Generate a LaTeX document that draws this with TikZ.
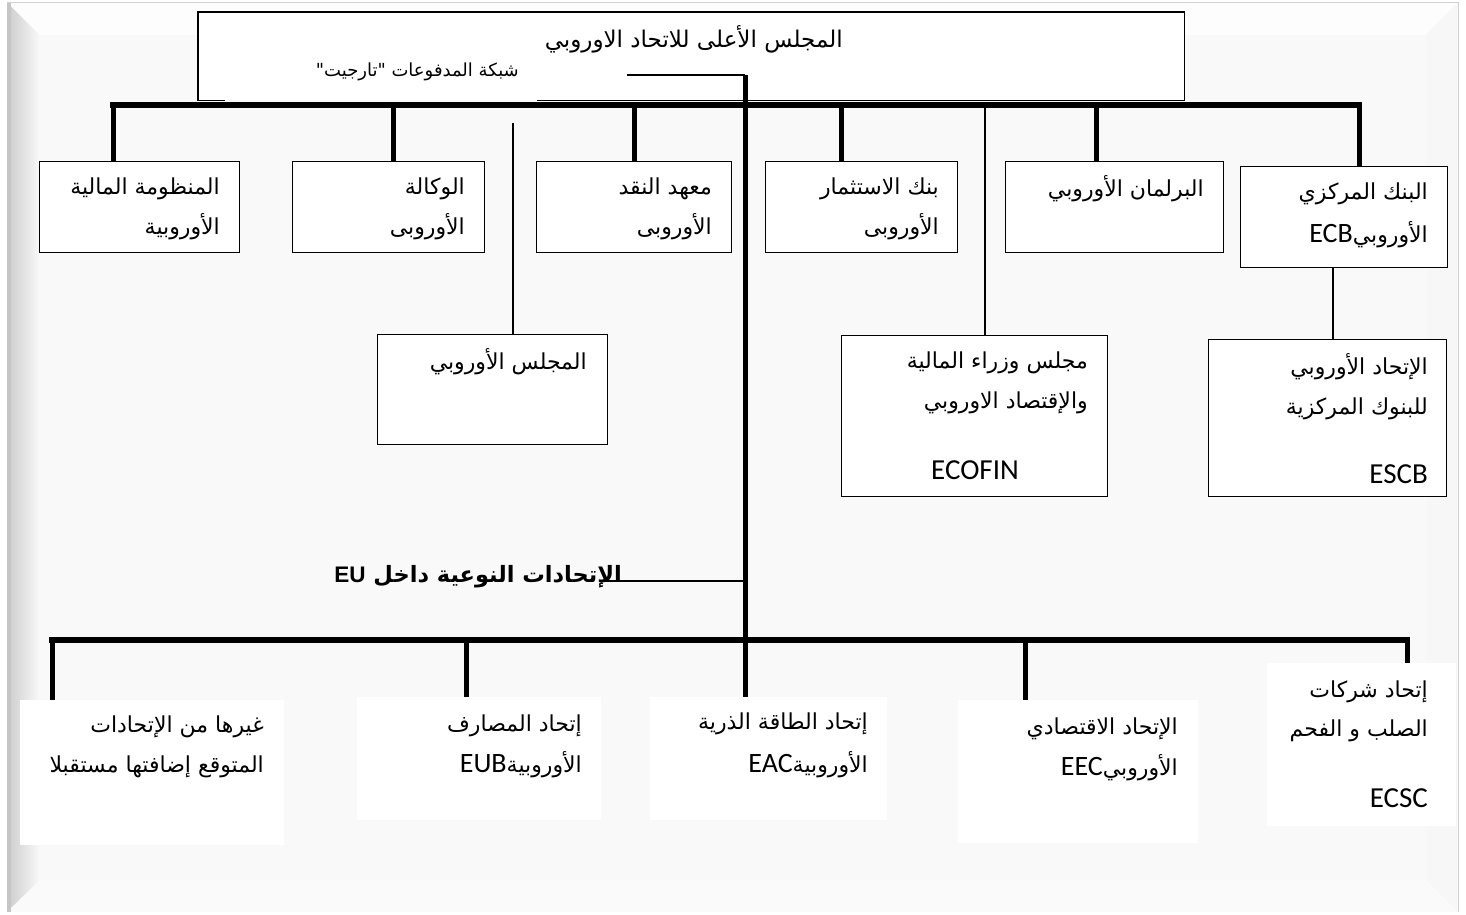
\documentclass[tikz,border=0pt]{standalone}
\usepackage{fontspec}
\setmainfont{Liberation Sans}
\newfontfamily\arabicfont[Script=Arabic]{DejaVu Sans}
\newfontfamily\latinfont{Carlito}
\TeXXeTstate=1
\usetikzlibrary{calc}
\newcommand\AR[1]{\beginR #1\endR}
\newcommand\LT[1]{\beginL{\latinfont\fontsize{28}{30}\selectfont #1}\endL}
\definecolor{bgc}{HTML}{F9F9F9}
\begin{document}
\begin{tikzpicture}[x=1pt,y=-1pt,
  box/.style={draw=black, line width=1.3pt, fill=white, inner sep=0pt, anchor=north west},
  wbox/.style={fill=white, inner sep=0pt, anchor=north west},
  txt/.style={inner sep=0pt, anchor=base east, font=\arabicfont\fontsize{22}{26}\selectfont},
  ltxt/.style={inner sep=0pt, anchor=base east, font=\latinfont\fontsize{29}{32}\selectfont},
  bus/.style={line width=6pt, line cap=rect},
  drop/.style={line width=5pt},
  thinln/.style={line width=1.3pt}]
% frame / background
\fill[white] (0,0) rectangle (1466,914);
\fill[bgc] (7,2) rectangle (1458,912);
\shade[left color=gray!40, right color=bgc] (7,2) -- (40,35) -- (40,880) -- (7,912) -- cycle;
\fill[white!60!bgc] (7,2) -- (1458,2) -- (1426,35) -- (40,35) -- cycle;
\fill[gray!6] (1458,2) -- (1426,35) -- (1426,880) -- (1458,912) -- cycle;
\fill[gray!4] (7,912) -- (40,880) -- (1426,880) -- (1458,912) -- cycle;
\fill[gray!45] (7,2) rectangle (11,912);
\draw[gray!35, line width=1pt] (7,2) -- (1458,2) -- (1458,912);

% top box
\node[wbox, minimum width=986pt, minimum height=88pt] (top) at (198,12) {};
\draw[thinln] ($(top.south west)+(27,0)$) -- (top.south west) -- (top.north west) -- (top.north east) -- (top.south east) -- ($(top.south west)+(339,0)$);
\node[txt, font=\arabicfont\fontsize{23}{26}\selectfont] (topt) at (843,47) {\AR{المجلس الأعلى للاتحاد الاوروبي}};
\node[txt, font=\arabicfont\fontsize{18}{21}\selectfont] (target) at (519,76) {\AR{شبكة المدفوعات "تارجيت"}};

% row 1 boxes
\node[box, minimum width=200pt, minimum height=91pt] (b1) at (39,161) {};
\node[box, minimum width=192pt, minimum height=91pt] (b2) at (292,161) {};
\node[box, minimum width=195pt, minimum height=91pt] (b3) at (536,161) {};
\node[box, minimum width=192pt, minimum height=91pt] (b4) at (765,161) {};
\node[box, minimum width=218pt, minimum height=91pt] (b5) at (1005,161) {};
\node[box, minimum width=207pt, minimum height=101pt] (b6) at (1240,166) {};
% row 2 boxes
\node[box, minimum width=230pt, minimum height=110pt] (b7) at (377,334) {};
\node[box, minimum width=266pt, minimum height=161pt] (b8) at (841,335) {};
\node[box, minimum width=238pt, minimum height=157pt] (b9) at (1208,339) {};
% bottom boxes
\node[wbox, minimum width=264pt, minimum height=145pt] (c1) at (20,700) {};
\node[wbox, minimum width=244pt, minimum height=123pt] (c2) at (357,697) {};
\node[wbox, minimum width=237pt, minimum height=123pt] (c3) at (650,697) {};
\node[wbox, minimum width=240pt, minimum height=143pt] (c4) at (958,700) {};
\node[wbox, minimum width=189pt, minimum height=163pt] (c5) at (1267,663) {};

% connectors
\coordinate (busL) at (113,105);
\coordinate (busR) at (1359,105);
\coordinate (j1) at (745,75);
\coordinate (k1) at (627,75);
\coordinate (j2) at (745,581);
\coordinate (k2) at (605,581);
\coordinate (lowL) at (52,640);
\coordinate (lowR) at (1407,640);
\coordinate (d1) at (113,105);
\coordinate (d2) at (393,105);
\coordinate (d3) at (634,105);
\coordinate (d4) at (841,105);
\coordinate (d5) at (1096,105);
\coordinate (d6) at (1359,105);
\coordinate (e7) at (513,123);
\coordinate (e8) at (985,105);
\coordinate (f1) at (52,640);
\coordinate (f2) at (466,640);
\coordinate (f4) at (1025,640);
\coordinate (f5) at (1407,640);

\draw[thinln] (k1) -- (j1);
\draw[drop] (j1) -- (j1 |- c3.north);
\draw[bus] (busL) -- (busR);
\draw[drop] (d1) -- (d1 |- b1.north);
\draw[drop] (d2) -- (d2 |- b2.north);
\draw[drop] (d3) -- (d3 |- b3.north);
\draw[drop] (d4) -- (d4 |- b4.north);
\draw[drop] (d5) -- (d5 |- b5.north);
\draw[drop] (d6) -- (d6 |- b6.north);
\draw[thinln] (e7) -- (e7 |- b7.north);
\draw[thinln] (e8) -- (e8 |- b8.north);
\draw[thinln] (b6.south -| 1333,0) -- (b9.north -| 1333,0);
\draw[thinln] (k2) -- (j2);
\draw[bus] (lowL) -- (lowR);
\draw[drop] (f1) -- (f1 |- c1.north);
\draw[drop] (f2) -- (f2 |- c2.north);
\draw[drop] (f4) -- (f4 |- c4.north);
\draw[drop] (f5) -- (f5 |- c5.north);

% texts row 1
\node[txt] (t1a) at (220,194) {\AR{المنظومة المالية}};
\node[txt] (t1b) at (220,234) {\AR{الأوروبية}};
\node[txt] (t2a) at (465,194) {\AR{الوكالة}};
\node[txt] (t2b) at (465,234) {\AR{الأوروبى}};
\node[txt] (t3a) at (712,194) {\AR{معهد النقد}};
\node[txt] (t3b) at (712,234) {\AR{الأوروبى}};
\node[txt] (t4a) at (939,194) {\AR{بنك الاستثمار}};
\node[txt] (t4b) at (939,234) {\AR{الأوروبى}};
\node[txt] (t5a) at (1204,196) {\AR{البرلمان الأوروبي}};
\node[txt] (t6a) at (1428,199) {\AR{البنك المركزي}};
\node[txt] (t6b) at (1428,242) {\AR{الأوروبي\LT{ECB}}};
% row 2
\node[txt] (t7a) at (587,369) {\AR{المجلس الأوروبي}};
\node[txt] (t8a) at (1088,368) {\AR{مجلس وزراء المالية}};
\node[txt] (t8b) at (1088,408) {\AR{والإقتصاد الاوروبي}};
\node[ltxt, anchor=base] (t8c) at (975,479) {ECOFIN};
\node[txt] (t9a) at (1428,374) {\AR{الإتحاد الأوروبي}};
\node[txt] (t9b) at (1428,414) {\AR{للبنوك المركزية}};
\node[ltxt] (t9c) at (1428,483) {ESCB};
% heading
\node[txt, font=\arabicfont\bfseries\fontsize{22.5}{26}\selectfont] (head) at (622,582) {\AR{الإتحادات النوعية داخل \beginL{\rmfamily\bfseries EU}\endL}};
% bottom texts
\node[txt] (s1a) at (264,732) {\AR{غيرها من الإتحادات}};
\node[txt] (s1b) at (264,772) {\AR{المتوقع إضافتها مستقبلا}};
\node[txt] (s2a) at (582,731) {\AR{إتحاد المصارف}};
\node[txt] (s2b) at (582,772) {\AR{الأوروبية\LT{EUB}}};
\node[txt] (s3a) at (868,729) {\AR{إتحاد الطاقة الذرية}};
\node[txt] (s3b) at (868,772) {\AR{الأوروبية\LT{EAC}}};
\node[txt] (s4a) at (1178,734) {\AR{الإتحاد الاقتصادي}};
\node[txt] (s4b) at (1178,775) {\AR{الأوروبي\LT{EEC}}};
\node[txt] (s5a) at (1428,697) {\AR{إتحاد شركات}};
\node[txt] (s5b) at (1428,736) {\AR{الصلب و الفحم}};
\node[ltxt] (s5c) at (1428,807) {ECSC};
\end{tikzpicture}
\end{document}
